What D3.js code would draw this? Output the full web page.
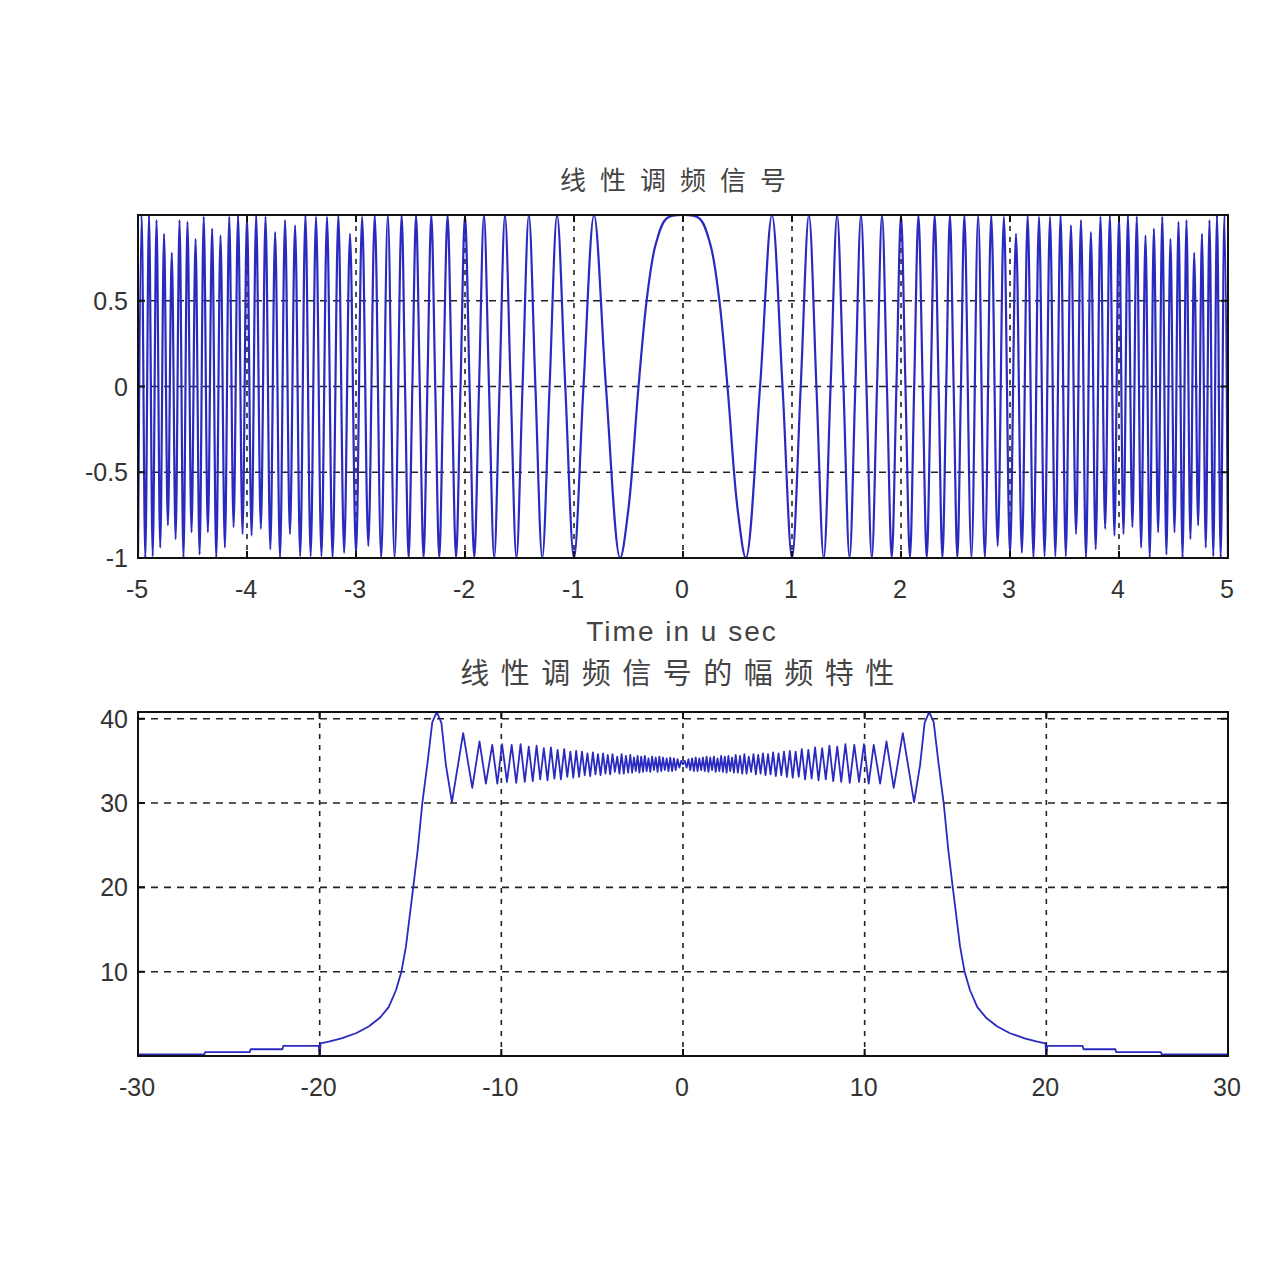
<html>
<head>
  <meta charset="utf-8">
  <title>线性调频信号</title>
  <script src="https://d3js.org/d3.v7.min.js"></script>
  <style>
    body {
      margin: 0;
      background-color: white;
    }
  </style>
</head>
<body>
<script>
  // chirp real part, read at its peaks / zero crossings for t >= 0 (signal is even in t)
  const chirpT = [0, 0.15, 0.25, 0.33, 0.408, 0.5, 0.577, 0.707, 0.816, 0.913, 1.0, 1.080, 1.155, 1.224,
    1.291, 1.354, 1.414, 1.472, 1.528, 1.581, 1.633, 1.683, 1.732, 1.780, 1.826, 1.871, 1.915, 1.958,
    2.0, 2.041, 2.082, 2.121, 2.160, 2.199, 2.236, 2.273, 2.309, 2.345, 2.380, 2.415, 2.449, 2.483,
    2.517, 2.550, 2.582, 2.646, 2.708, 2.769, 2.828, 2.887, 2.944, 3.0, 3.055, 3.109, 3.162, 3.215,
    3.266, 3.317, 3.367, 3.416, 3.464, 3.512, 3.559, 3.606, 3.651, 3.697, 3.742, 3.786, 3.830, 3.873,
    3.916, 3.958, 4.0, 4.041, 4.082, 4.123, 4.163, 4.203, 4.243, 4.282, 4.320, 4.359, 4.397, 4.435,
    4.472, 4.509, 4.546, 4.583, 4.619, 4.655, 4.690, 4.726, 4.761, 4.796, 4.830, 4.865, 4.899, 4.933,
    4.967, 5.0];
  const chirpV = [1, 0.98, 0.83, 0.52, 0, -0.71, -1, 0, 1, 0, -1, 0, 1, 0,
    -1, 0, 1, 0, -1, 0, 1, 0, -1, 0, 1, 0, -1, 0,
    1, 0, -1, 0, 1, 0, -1, 0, 1, 0, -1, 0, 1, 0,
    -1, 0, 1, -1, 1, -1, 1, -0.93, 0.99, -0.98, 0.89, -0.97, 1.0, -1.0,
    0.99, -0.99, 0.99, -0.99, 1.0, -0.99, 0.94, -0.86, 0.97, -1.0, 0.90, -0.95, 0.99, -0.83,
    1.0, -0.87, 0.99, -0.86, 1.0, -0.82, 0.99, -0.94, 0.88, -1.0, 0.92, -0.85, 0.99, -0.98,
    0.86, -0.85, 0.96, -1.0, 0.97, -0.89, 0.78, -0.81, 0.89, -0.94, 0.97, -0.99, 1.0, -1.0,
    1.0, -1.0];

  // magnitude spectrum for f >= 0 (MHz), mirrored for f < 0
  const specF = [0.00, 0.10, 0.20, 0.30, 0.40, 0.50, 0.60, 0.70, 0.80, 0.90, 1.00, 1.10, 1.20, 1.30,
    1.40, 1.50, 1.60, 1.70, 1.80, 1.90, 2.00, 2.10, 2.20, 2.30, 2.40, 2.50, 2.60, 2.70, 2.80, 2.90,
    3.02, 3.14, 3.26, 3.38, 3.50, 3.62, 3.75, 3.88, 4.01, 4.14, 4.27, 4.40, 4.54, 4.68, 4.82, 4.96,
    5.11, 5.26, 5.41, 5.56, 5.72, 5.88, 6.04, 6.20, 6.37, 6.54, 6.72, 6.90, 7.08, 7.27, 7.46, 7.66,
    7.86, 8.06, 8.27, 8.49, 8.71, 8.94, 9.18, 9.43, 9.69, 9.96, 10.22, 10.50, 10.85, 11.20, 11.60,
    12.10, 12.72, 13.05, 13.30, 13.55, 13.80, 14.05, 14.35, 14.60, 14.85, 15.05, 15.25, 15.50, 15.80,
    16.20, 16.70, 17.30, 18.00, 18.80, 19.50, 19.95, 20.00, 20.05, 22.00, 22.05, 23.80, 23.85, 26.30,
    26.35, 30.00];
  const specM = [34.6, 35.0, 34.2, 35.2, 33.9, 35.3, 33.8, 35.4, 33.8, 35.3, 33.9, 35.4, 33.8, 35.5,
    33.7, 35.4, 33.9, 35.5, 33.7, 35.3, 33.8, 35.6, 33.7, 35.5, 33.6, 35.6, 33.8, 35.4, 33.6, 35.7,
    33.6, 35.6, 33.5, 35.8, 33.5, 35.5, 33.7, 35.8, 33.4, 35.7, 33.5, 35.9, 33.3, 35.8, 33.4, 36.0,
    33.2, 35.9, 33.3, 36.1, 33.1, 36.2, 33.0, 36.1, 33.1, 36.4, 32.8, 36.3, 32.9, 36.6, 32.7, 36.5,
    32.8, 36.8, 32.6, 36.7, 32.5, 37.0, 32.4, 36.9, 32.5, 37.0, 32.3, 36.9, 32.3, 37.3, 31.8,
    38.3, 30.1, 34.5, 39.5, 40.8, 39.6, 35.0, 30.0, 24.5, 20.0, 16.5, 13.0, 10.0, 7.8,
    5.8, 4.5, 3.5, 2.7, 2.1, 1.7, 1.5, 0.1, 1.2, 1.2, 0.8, 0.8, 0.45, 0.45,
    0.2, 0.2];

  const topXTicks = [-5, -4, -3, -2, -1, 0, 1, 2, 3, 4, 5];
  const topYTicks = [-1, -0.5, 0, 0.5];
  const botXTicks = [-30, -20, -10, 0, 10, 20, 30];
  const botYTicks = [10, 20, 30, 40];

  const width = 1282, height = 1282;
  const lineColor = "#2a2ac0";

  var svg = d3.select("body").append("svg")
    .attr("width", width)
    .attr("height", height);

  // mirror the half-series round zero
  function mirror(xs, ys) {
    const pts = [];
    for (let i = xs.length - 1; i > 0; i--) pts.push([-xs[i], ys[i]]);
    for (let i = 0; i < xs.length; i++) pts.push([xs[i], ys[i]]);
    return pts;
  }

  function panel(box, xDomain, yDomain, xTicks, yTicks, pts, curve, lw, id) {
    const x = d3.scaleLinear().domain(xDomain).range([box.left, box.right]);
    const y = d3.scaleLinear().domain(yDomain).range([box.bottom, box.top]);
    const g = svg.append("g");

    g.append("clipPath").attr("id", id)
      .append("rect")
      .attr("x", box.left).attr("y", box.top)
      .attr("width", box.right - box.left).attr("height", box.bottom - box.top);

    // grid
    g.append("g")
      .selectAll("line")
      .data(xTicks.filter(d => d > xDomain[0] && d < xDomain[1]))
      .join("line")
      .attr("x1", d => x(d)).attr("x2", d => x(d))
      .attr("y1", box.top).attr("y2", box.bottom)
      .attr("stroke", "#222").attr("stroke-width", 1.6)
      .attr("stroke-dasharray", "5,6");
    g.append("g")
      .selectAll("line")
      .data(yTicks.filter(d => d > yDomain[0] && d < yDomain[1]))
      .join("line")
      .attr("x1", box.left).attr("x2", box.right)
      .attr("y1", d => y(d)).attr("y2", d => y(d))
      .attr("stroke", "#222").attr("stroke-width", 1.6)
      .attr("stroke-dasharray", "7,6");

    // data line
    g.append("path")
      .datum(pts)
      .attr("clip-path", `url(#${id})`)
      .attr("fill", "none")
      .attr("stroke", lineColor)
      .attr("stroke-width", lw)
      .attr("stroke-linejoin", "round")
      .attr("d", d3.line().x(d => x(d[0])).y(d => y(d[1])).curve(curve));

    // frame and inward ticks
    g.append("rect")
      .attr("x", box.left).attr("y", box.top)
      .attr("width", box.right - box.left).attr("height", box.bottom - box.top)
      .attr("fill", "none").attr("stroke", "#111").attr("stroke-width", 2);
    g.append("g")
      .selectAll("path")
      .data(xTicks)
      .join("path")
      .attr("d", d => `M${x(d)},${box.bottom}v-7M${x(d)},${box.top}v7`)
      .attr("stroke", "#111").attr("stroke-width", 2);
    g.append("g")
      .selectAll("path")
      .data(yTicks)
      .join("path")
      .attr("d", d => `M${box.left},${y(d)}h7M${box.right},${y(d)}h-7`)
      .attr("stroke", "#111").attr("stroke-width", 2);

    // tick labels
    g.append("g")
      .selectAll("text")
      .data(xTicks)
      .join("text")
      .attr("x", d => x(d) - 1)
      .attr("y", box.bottom + 40)
      .attr("text-anchor", "middle")
      .attr("font-family", "Liberation Sans, Arial, sans-serif")
      .attr("font-size", 25)
      .attr("fill", "#333")
      .text(d => String(d));
    g.append("g")
      .selectAll("text")
      .data(yTicks)
      .join("text")
      .attr("x", box.left - 10)
      .attr("y", d => y(d))
      .attr("dy", "0.36em")
      .attr("text-anchor", "end")
      .attr("font-family", "Liberation Sans, Arial, sans-serif")
      .attr("font-size", 25)
      .attr("fill", "#333")
      .text(d => String(d));
  }

  panel({ left: 138, right: 1228, top: 215, bottom: 558 }, [-5, 5], [-1, 1],
    topXTicks, topYTicks, mirror(chirpT, chirpV), d3.curveCatmullRom.alpha(0.5), 2.2, "clipTop");
  panel({ left: 138, right: 1228, top: 712, bottom: 1056 }, [-30, 30], [0, 40.8],
    botXTicks, botYTicks, mirror(specF, specM), d3.curveLinear, 1.8, "clipBot");

  // titles and label
  svg.append("text")
    .attr("x", 680).attr("y", 190)
    .attr("text-anchor", "middle")
    .attr("font-family", "Noto Sans CJK SC, sans-serif")
    .attr("font-size", 26)
    .attr("letter-spacing", 14)
    .attr("fill", "#444")
    .text("线性调频信号");
  svg.append("text")
    .attr("x", 682).attr("y", 641)
    .attr("text-anchor", "middle")
    .attr("font-family", "Liberation Sans, Arial, sans-serif")
    .attr("font-size", 28)
    .attr("letter-spacing", 2)
    .attr("fill", "#444")
    .text("Time in u sec");
  svg.append("text")
    .attr("x", 683).attr("y", 684)
    .attr("text-anchor", "middle")
    .attr("font-family", "Noto Sans CJK SC, sans-serif")
    .attr("font-size", 29)
    .attr("letter-spacing", 11.5)
    .attr("fill", "#444")
    .text("线性调频信号的幅频特性");
</script>
</body>
</html>
